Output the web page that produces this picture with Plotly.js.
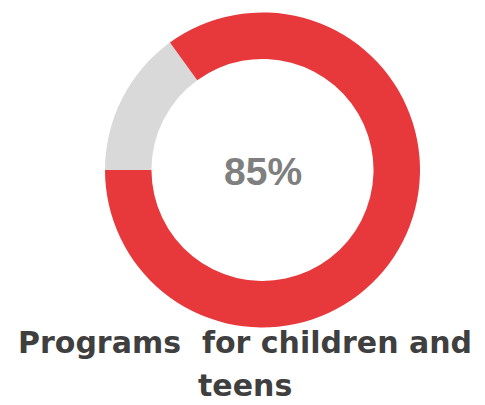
<!DOCTYPE html>
<html>
<head>
<meta charset="utf-8">
<script src="https://cdn.plot.ly/plotly-3.0.1.min.js"></script>
<style>html,body{margin:0;padding:0;background:#fff;}#chart{width:485px;height:405px;}</style>
</head>
<body>
<div id="chart"></div>
<script>
const labels = ["Not yet", "Programs for children and teens"];
const values = [15, 85];
const sliceColors = ["#d9d9d9", "#e7383c"];
const centerLabel = "85%";
const titleLine1 = "Programs\u00a0 for children and";
const titleLine2 = "teens";

const W = 485, H = 405;
const cx = 262.5, cy = 170, R = 157.5;

const data = [{
  type: "pie",
  labels: labels,
  values: values,
  marker: {colors: sliceColors, line: {width: 0}},
  hole: 0.705,
  sort: false,
  direction: "clockwise",
  rotation: 270,
  textinfo: "none",
  hoverinfo: "label+percent",
  showlegend: false,
  domain: {x: [(cx - R) / W, (cx + R) / W], y: [(H - cy - R) / H, (H - cy + R) / H]}
}];

const layout = {
  width: W, height: H,
  margin: {l: 0, r: 0, t: 0, b: 0},
  paper_bgcolor: "#ffffff",
  showlegend: false,
  annotations: [
    {text: centerLabel, x: cx / W, y: (H - 171) / H, xref: "paper", yref: "paper",
     xanchor: "center", yanchor: "middle", showarrow: false,
     font: {family: "Liberation Sans, Arial, sans-serif", size: 39, color: "#7f7f7f", weight: "bold"}},
    {text: titleLine1, x: 245 / W, y: (H - 342) / H, xref: "paper", yref: "paper",
     xanchor: "center", yanchor: "middle", showarrow: false,
     font: {family: "DejaVu Sans, sans-serif", size: 30, color: "#3f3f3f", weight: "bold"}},
    {text: titleLine2, x: 245 / W, y: (H - 385) / H, xref: "paper", yref: "paper",
     xanchor: "center", yanchor: "middle", showarrow: false,
     font: {family: "DejaVu Sans, sans-serif", size: 30, color: "#3f3f3f", weight: "bold"}}
  ]
};

Plotly.newPlot("chart", data, layout, {displayModeBar: false, staticPlot: true});
</script>
</body>
</html>
